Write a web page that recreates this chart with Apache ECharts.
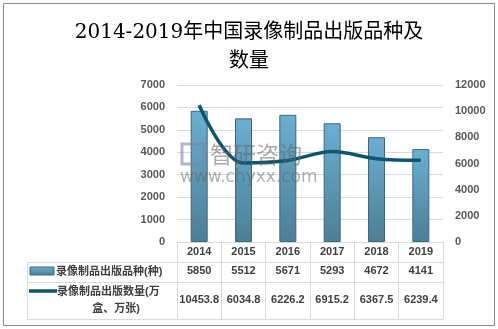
<!DOCTYPE html>
<html><head><meta charset="utf-8">
<script src="https://cdn.jsdelivr.net/npm/echarts@6/dist/echarts.min.js"></script>
<style>html,body{margin:0;padding:0;background:#fff}#c{width:498px;height:329px}</style>
</head><body><div id="c"></div>
<script>
var titleText = '2014-2019年中国录像制品出版品种及\n数量';
var years = ['2014','2015','2016','2017','2018','2019'];
var varieties = [5850, 5512, 5671, 5293, 4672, 4141];
var quantities = [10453.8, 6034.8, 6226.2, 6915.2, 6367.5, 6239.4];
var seriesNames = ['录像制品出版品种(种)', '录像制品出版数量(万盒、万张)'];
var leftTicks = {min:0, max:7000, interval:1000};
var rightTicks = {min:0, max:12000, interval:2000};

var chart = echarts.init(document.getElementById('c'));
var barGrad = new echarts.graphic.LinearGradient(0,0,0,1,[{offset:0,color:'#6aafd2'},{offset:1,color:'#4c7f95'}]);
var tf = 'Liberation Sans, Noto Sans CJK SC, sans-serif';
var lineColor = '#0d5670';
var tableLine = '#d9d9d9';
var plain = function(v){return String(v);};

chart.setOption({
  animation:false,
  title:{text:titleText,left:'center',top:13,textStyle:{fontFamily:'DejaVu Serif, Noto Sans CJK SC, serif',fontSize:20,fontWeight:'normal',color:'#000',lineHeight:29}},
  grid:{left:177,right:55,top:85,bottom:87},
  xAxis:[
    {type:'category',data:years,boundaryGap:true,
     axisLine:{lineStyle:{color:tableLine}},
     axisTick:{show:true,length:77,interval:0,lineStyle:{color:tableLine}},
     axisLabel:{margin:4,fontSize:11,interval:0,color:'#404040',fontFamily:tf,fontWeight:'bold'}},
    {type:'category',data:varieties.map(String),position:'bottom',offset:20,
     axisLine:{show:false},axisTick:{show:false},
     axisLabel:{margin:3,fontSize:11,interval:0,hideOverlap:false,color:'#404040',fontFamily:tf,fontWeight:'bold'}},
    {type:'category',data:quantities.map(function(v){return v.toFixed(1);}),position:'bottom',offset:40,
     axisLine:{show:false},axisTick:{show:false},
     axisLabel:{margin:12,fontSize:11,interval:0,hideOverlap:false,color:'#404040',fontFamily:tf,fontWeight:'bold'}}
  ],
  yAxis:[
    {type:'value',min:leftTicks.min,max:leftTicks.max,interval:leftTicks.interval,
     axisLine:{show:false},axisTick:{show:false},
     splitLine:{lineStyle:{color:tableLine}},
     axisLabel:{margin:12,fontSize:11,formatter:plain,color:'#595959',fontFamily:tf,fontWeight:'bold'}},
    {type:'value',min:rightTicks.min,max:rightTicks.max,interval:rightTicks.interval,
     axisLine:{show:false},axisTick:{show:false},splitLine:{show:false},
     axisLabel:{margin:12,fontSize:11,formatter:plain,color:'#595959',fontFamily:tf,fontWeight:'bold'}}
  ],
  series:[
    {name:seriesNames[0],type:'bar',data:varieties,barWidth:17,xAxisIndex:0,yAxisIndex:0,
     itemStyle:{color:barGrad,borderColor:'#3d687b',borderWidth:1}},
    {name:seriesNames[1],type:'line',data:quantities,xAxisIndex:0,yAxisIndex:1,smooth:0.35,
     symbol:'none',lineStyle:{color:lineColor,width:3.5}}
  ],
  graphic:[
    {type:'rect',shape:{x:3.5,y:3.5,width:491,height:322},style:{fill:'none',stroke:'#8a8a8a',lineWidth:1}},
    {type:'line',shape:{x1:27,y1:262.5,x2:443,y2:262.5},style:{stroke:tableLine,lineWidth:1}},
    {type:'line',shape:{x1:27,y1:282.5,x2:443,y2:282.5},style:{stroke:tableLine,lineWidth:1}},
    {type:'line',shape:{x1:27,y1:319.5,x2:443,y2:319.5},style:{stroke:tableLine,lineWidth:1}},
    {type:'line',shape:{x1:27.5,y1:262,x2:27.5,y2:320},style:{stroke:tableLine,lineWidth:1}},
    {type:'rect',shape:{x:30,y:267,width:24,height:8},style:{fill:barGrad,stroke:'#3d687b',lineWidth:1}},
    {type:'text',x:56,y:272,style:{text:seriesNames[0],font:'bold 11px '+tf,fill:'#404040',textVerticalAlign:'middle'}},
    {type:'line',shape:{x1:29,y1:291,x2:57,y2:291},style:{stroke:lineColor,lineWidth:3.5}},
    {type:'text',x:57,y:292,style:{text:'录像制品出版数量(万',font:'bold 11px '+tf,fill:'#404040',textVerticalAlign:'middle'}},
    {type:'text',x:116,y:309,style:{text:'盒、万张)',font:'bold 11px '+tf,fill:'#404040',textVerticalAlign:'middle',textAlign:'center'}},
    {type:'group',silent:true,z:100,children:[
      {type:'rect',z:100,shape:{x:182,y:144,width:22,height:20},style:{fill:'none',stroke:'rgba(120,135,170,0.6)',lineWidth:3}},
      {type:'text',z:100,x:210,y:154,style:{text:'智研咨询',font:'23px Noto Sans CJK SC',fill:'rgba(100,100,100,0.55)',textVerticalAlign:'middle'}},
      {type:'text',z:100,x:180,y:178,style:{text:'www.chyxx.com',font:'17px DejaVu Sans',fill:'rgba(100,100,100,0.5)',textVerticalAlign:'middle'}}
    ]}
  ]
});
</script></body></html>
